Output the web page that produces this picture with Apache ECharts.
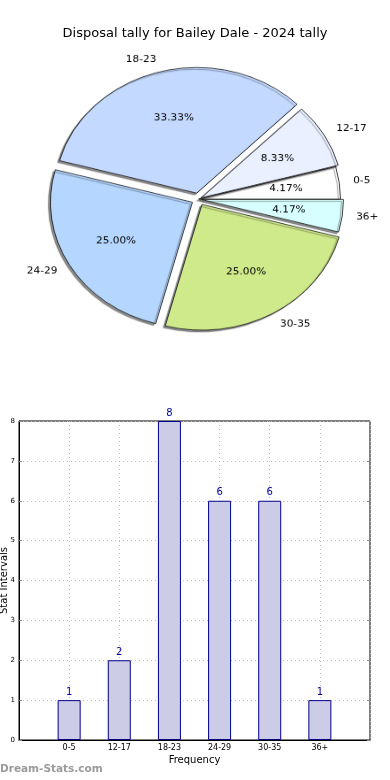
<!DOCTYPE html>
<html><head><meta charset="utf-8">
<script src="https://cdn.jsdelivr.net/npm/echarts@6/dist/echarts.min.js"></script>
<style>
html,body{margin:0;padding:0;background:#fff;}
#bar{position:absolute;left:0;top:0;width:390px;height:780px;}
#pie{position:absolute;left:0;top:0;width:390px;height:400px;transform:scaleY(0.885);transform-origin:0 0;pointer-events:none;}
</style></head><body>
<div id="bar"></div><div id="pie"></div>
<script>
const titleText = 'Disposal tally for Bailey Dale - 2024 tally';
const watermarkText = 'Dream-Stats.com';
const categories = ['0-5', '12-17', '18-23', '24-29', '30-35', '36+'];
const counts = [1, 2, 8, 6, 6, 1];
const sliceColors = ['#ffffff', '#eaf0ff', '#c3d9ff', '#b5d6ff', '#cfea8b', '#d8ffff'];
const explode = [0, 3, 7, 7, 7, 3];
const xAxisName = 'Frequency';
const yAxisName = 'Stat Intervals';

const FONT = 'DejaVu Sans';

// ---------- bar chart + title ----------
const bar = echarts.init(document.getElementById('bar'), null, {renderer: 'canvas'});
bar.setOption({
  animation: false,
  backgroundColor: '#fff',
  title: [
    {text: titleText, left: 'center', top: 22,
     textStyle: {fontFamily: FONT, fontSize: 13, fontWeight: 'normal', color: '#000'}},
    {text: watermarkText, left: 0, top: 764, padding: 0,
     textStyle: {fontFamily: FONT, fontSize: 10.5, fontWeight: 'bold', color: '#9a9a9a'}}
  ],
  grid: {left: 19, right: 20, top: 421, bottom: 40, show: true, borderColor: '#000', borderWidth: 1,
         containLabel: false, outerBoundsMode: 'none'},
  xAxis: {
    type: 'value', min: 0, max: categories.length + 1, interval: 1,
    name: xAxisName, nameLocation: 'middle', nameGap: 15, nameMoveOverlap: false,
    nameTextStyle: {fontFamily: FONT, fontSize: 10, color: '#000'},
    axisLine: {show: true, lineStyle: {color: '#000'}},
    axisTick: {show: false},
    axisLabel: {
      fontFamily: FONT, fontSize: 8, color: '#000', margin: 4,
      formatter: v => (v >= 1 && v <= categories.length) ? categories[v - 1] : ''
    },
    splitLine: {show: true, lineStyle: {color: '#bdbdbd', type: [1, 3], width: 1}}
  },
  yAxis: [{
    type: 'value', min: 0, max: 8, interval: 1,
    name: yAxisName, nameLocation: 'middle', nameGap: 10, nameRotate: 90, nameMoveOverlap: false,
    nameTextStyle: {fontFamily: FONT, fontSize: 10, color: '#000'},
    axisLine: {show: true, lineStyle: {color: '#000'}},
    axisTick: {show: true, inside: true, length: 3, lineStyle: {color: '#888'}},
    axisLabel: {fontFamily: FONT, fontSize: 7, color: '#000', margin: 4},
    splitLine: {show: true, lineStyle: {color: '#bdbdbd', type: [1, 3], width: 1}}
  }, {
    type: 'value', min: 0, max: 8, interval: 1, position: 'right',
    axisLine: {show: false}, axisLabel: {show: false},
    axisTick: {show: true, inside: true, length: 3, lineStyle: {color: '#888'}},
    splitLine: {show: false}
  }],
  series: [{
    type: 'bar',
    barWidth: 23,
    data: counts.map((v, i) => [i + 1, v]),
    itemStyle: {color: '#ccccE6', borderColor: '#00008b', borderWidth: 1},
    label: {show: true, position: 'top', distance: 3, fontFamily: FONT, fontSize: 10, color: '#0000a0',
            formatter: p => p.value[1]}
  }]
});

// ---------- pie chart ----------
const pie = echarts.init(document.getElementById('pie'), null, {renderer: 'canvas'});
const pieCenter = [198.5, 225];
const pieRadius = 142;
const offsetGroups = Array.from(new Set(explode));
const hidden = {color: 'rgba(0,0,0,0)', borderWidth: 0, shadowColor: 'rgba(0,0,0,0)'};
const series = [];
offsetGroups.forEach(off => {
  const inGroup = i => explode[i] === off;
  // slices
  series.push({
    type: 'pie', center: pieCenter, radius: pieRadius,
    startAngle: 0, clockwise: false, silent: true,
    selectedMode: 'multiple', selectedOffset: off, avoidLabelOverlap: false,
    data: categories.map((c, i) => {
      const st = inGroup(i) ? {color: sliceColors[i]} : hidden;
      return {
        name: c, value: counts[i], selected: off > 0,
        itemStyle: st, select: {itemStyle: st},
        label: {show: inGroup(i)}
      };
    }),
    itemStyle: {borderColor: '#111', borderWidth: 0.8,
                shadowBlur: 1, shadowOffsetX: -2, shadowOffsetY: 2, shadowColor: 'rgba(0,0,0,0.45)'},
    select: {itemStyle: {borderColor: '#111', borderWidth: 0.8}},
    label: {position: 'outside', fontFamily: FONT, fontSize: 10.5, color: '#000',
            distanceToLabelLine: 0, formatter: '{b}'},
    labelLine: {show: false, length: 14, length2: 0}
  });
  // percentage labels (at 0.6 of the radius)
  series.push({
    type: 'pie', center: pieCenter, radius: pieRadius * 1.2,
    startAngle: 0, clockwise: false, silent: true,
    selectedMode: 'multiple', selectedOffset: off, avoidLabelOverlap: false,
    data: categories.map((c, i) => ({
      name: c, value: counts[i], selected: off > 0,
      label: {show: inGroup(i)}
    })),
    itemStyle: hidden,
    select: {itemStyle: hidden},
    label: {position: 'inside', fontFamily: FONT, fontSize: 10.5, color: '#000',
            formatter: p => p.percent.toFixed(2) + '%'},
    labelLine: {show: false}
  });
});
pie.setOption({animation: false, series: series});
</script>
</body></html>
